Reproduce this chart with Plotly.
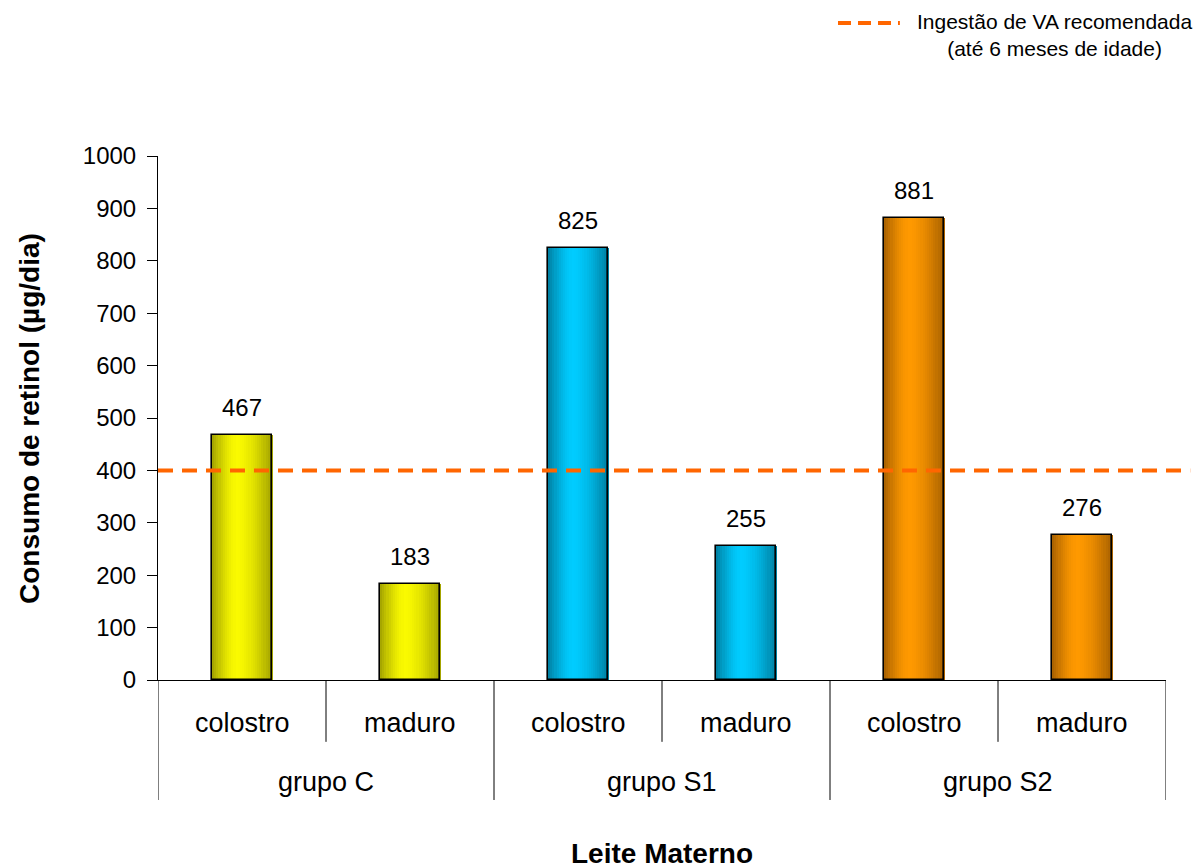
import plotly.graph_objects as go

# Retinol intake from breast milk, by group and milk type
groups = ["grupo C", "grupo S1", "grupo S2"]
milk_types = ["colostro", "maduro", "colostro", "maduro", "colostro", "maduro"]
bar_group = [0, 0, 1, 1, 2, 2]
retinol = [467, 183, 825, 255, 881, 276]
recommended = 400

y_ticks = [0, 100, 200, 300, 400, 500, 600, 700, 800, 900, 1000]

# (edge colour, centre colour) of each group's shaded bars
group_shades = [
    ((160, 160, 0), (250, 250, 0)),
    ((0, 125, 158), (0, 204, 255)),
    ((165, 95, 0), (255, 153, 0)),
]

FONT = "Liberation Sans, Arial, sans-serif"
BAR_W = 0.357
N_SLICES = 28

x_pos = list(range(len(retinol)))


def shade(edge, centre, u):
    # brightest a little left of the middle, darker toward both sides
    peak = 0.42
    d = abs(u - peak) / (peak if u < peak else 1 - peak)
    k = max(0.0, 1 - d ** 1.6)
    r, g, b = (round(e + (c - e) * k) for e, c in zip(edge, centre))
    return f"rgb({r},{g},{b})"


fig = go.Figure()

# each bar is built from thin vertical slices to give a cylinder-like shading
slice_w = BAR_W / N_SLICES
for k in range(N_SLICES):
    u = (k + 0.5) / N_SLICES
    colors = [shade(*group_shades[g], u) for g in bar_group]
    fig.add_trace(go.Bar(
        x=x_pos, y=retinol,
        width=slice_w * 1.25,
        offset=-BAR_W / 2 + k * slice_w,
        marker=dict(color=colors, line=dict(width=0)),
        showlegend=False, hoverinfo="skip",
    ))

# black outline over the shaded bars
fig.add_trace(go.Bar(
    x=x_pos, y=retinol, width=BAR_W,
    marker=dict(color="rgba(0,0,0,0)", line=dict(color="black", width=1.6)),
    showlegend=False,
))

# value labels above the bars
for x, v in zip(x_pos, retinol):
    fig.add_annotation(
        x=x, y=v, xref="x", yref="y", text=str(v), showarrow=False,
        yanchor="bottom", yshift=12, font=dict(family=FONT, size=24, color="black"),
    )

# recommended intake line
fig.add_shape(
    type="line", xref="paper", yref="y", x0=0, x1=1.024, y0=recommended, y1=recommended,
    line=dict(color="#FF6600", width=4, dash="15px,9px"),
)

# two-level category axis: milk type labels and group labels with dividers
for x, name in zip(x_pos, milk_types):
    fig.add_annotation(
        x=x, y=-0.082, xref="x", yref="paper", text=name, showarrow=False,
        yanchor="middle", font=dict(family=FONT, size=27, color="black"),
    )
for gi, name in enumerate(groups):
    fig.add_annotation(
        x=2 * gi + 0.5, y=-0.195, xref="x", yref="paper", text=name, showarrow=False,
        yanchor="middle", font=dict(family=FONT, size=27, color="black"),
    )
for gi in range(len(groups)):
    mid = 2 * gi + 0.5
    fig.add_shape(type="line", xref="x", yref="paper", x0=mid, x1=mid, y0=0, y1=-0.118,
                  line=dict(color="black", width=1))
for gi in range(len(groups) + 1):
    edge = 2 * gi - 0.5
    fig.add_shape(type="line", xref="x", yref="paper", x0=edge, x1=edge, y0=0, y1=-0.229,
                  line=dict(color="black", width=1))

# axis titles
fig.add_annotation(
    x=-0.128, y=0.5, xref="paper", yref="paper", text="<b>Consumo de retinol (µg/dia)</b>",
    textangle=-90, showarrow=False, xanchor="center", yanchor="middle",
    font=dict(family=FONT, size=28, color="black"),
)
fig.add_annotation(
    x=0.5, y=-0.331, xref="paper", yref="paper", text="<b>Leite Materno</b>",
    showarrow=False, xanchor="center", yanchor="middle",
    font=dict(family=FONT, size=28, color="black"),
)

# legend entry for the recommended line
fig.add_shape(
    type="line", xref="paper", yref="paper", x0=0.6746, x1=0.736, y0=1.254, y1=1.254,
    line=dict(color="#FF6600", width=4, dash="13px,7px"),
)
fig.add_annotation(
    x=0.889, y=1.231, xref="paper", yref="paper",
    text="Ingestão de VA recomendada<br>(até 6 meses de idade)",
    showarrow=False, xanchor="center", yanchor="middle", align="center",
    font=dict(family=FONT, size=21, color="black"),
)

fig.update_layout(
    width=1200, height=868,
    margin=dict(l=158, r=34, t=156, b=188),
    paper_bgcolor="white", plot_bgcolor="white",
    barmode="overlay", bargap=0,
    showlegend=False,
    font=dict(family=FONT, color="black"),
    xaxis=dict(range=[-0.5, 5.5], showticklabels=False, ticks="", showgrid=False,
               zeroline=False, showline=True, linecolor="black", linewidth=1, fixedrange=True),
    yaxis=dict(range=[0, 1000], tickvals=y_ticks, ticks="outside", ticklen=10,
               tickcolor="black", tickwidth=1, showgrid=False, zeroline=False,
               showline=True, linecolor="black", linewidth=1, ticklabelstandoff=6,
               tickfont=dict(family=FONT, size=24, color="black"), fixedrange=True),
)

fig.write_html("out.html")
